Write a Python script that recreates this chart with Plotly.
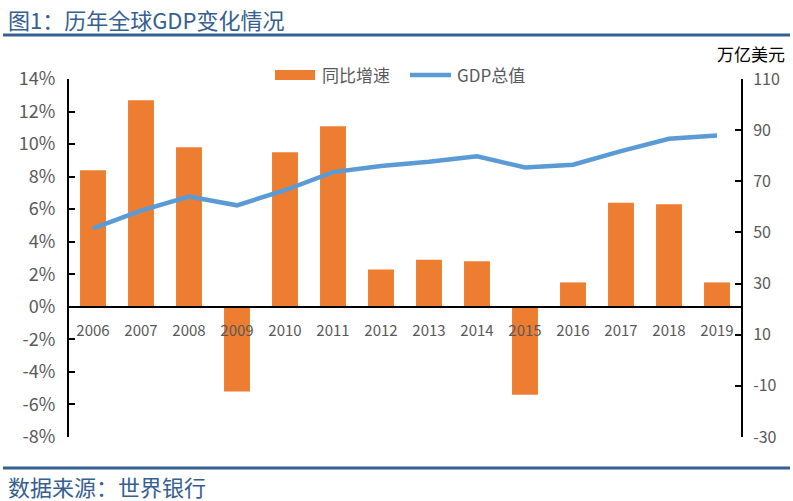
import plotly.graph_objects as go

years = ["2006", "2007", "2008", "2009", "2010", "2011", "2012",
         "2013", "2014", "2015", "2016", "2017", "2018", "2019"]
growth_pct = [8.4, 12.7, 9.8, -5.2, 9.5, 11.1, 2.3, 2.9, 2.8, -5.4, 1.5, 6.4, 6.3, 1.5]
gdp_total = [51.6, 58.5, 64.0, 60.6, 66.5, 73.6, 76.0, 77.6, 79.8, 75.4, 76.5, 81.8, 86.6, 87.9]

left_ticks = [-8, -6, -4, -2, 0, 2, 4, 6, 8, 10, 12, 14]
left_labels = ["-8%", "-6%", "-4%", "-2%", "0%", "2%", "4%", "6%", "8%", "10%", "12%", "14%"]
right_ticks = [-30, -10, 10, 30, 50, 70, 90, 110]
right_labels = ["-30", "-10", "10", "30", "50", "70", "90", "110"]

series_names = ["同比增速", "GDP总值"]

FONT = "Noto Sans CJK SC"
ORANGE = "#ED7D31"
BLUE = "#5B9BD5"
NAVY = "#35608F"
GRAY = "#595959"

W, H = 793, 501
L, R, T, B = 69, 52, 79, 64
ph = H - T - B
pw = W - L - R

def py(p):
    return (H - B - p) / ph

def px(p):
    return (p - L) / pw

fig = go.Figure()
fig.add_trace(go.Bar(x=years, y=growth_pct, name=series_names[0], marker_color=ORANGE,
                     marker_line_width=0, yaxis="y", showlegend=False))
fig.add_trace(go.Scatter(x=years, y=gdp_total, name=series_names[1], mode="lines",
                         line=dict(color=BLUE, width=4.5), yaxis="y2", showlegend=False))

fig.update_layout(
    width=W, height=H,
    margin=dict(l=L, r=R, t=T, b=B, autoexpand=False),
    paper_bgcolor="white", plot_bgcolor="white",
    bargap=0.46,
    font=dict(family=FONT, color=GRAY),
    showlegend=False,
    xaxis=dict(type="category", anchor="free", position=8 / 22,
               showline=True, linecolor="black", linewidth=2,
               ticks="", showgrid=False, zeroline=False,
               tickfont=dict(size=15, color=GRAY, family=FONT),
               ticklabelstandoff=10),
    yaxis=dict(range=[-8, 14], tickvals=left_ticks, ticktext=left_labels,
               showline=True, linecolor="black", linewidth=2,
               ticks="inside", ticklen=6, tickwidth=2, tickcolor="black",
               showgrid=False, zeroline=False, ticklabelstandoff=8,
               tickfont=dict(size=18, color=GRAY, family=FONT)),
    yaxis2=dict(range=[-30, 110], tickvals=right_ticks, ticktext=right_labels,
                overlaying="y", side="right",
                showline=True, linecolor="black", linewidth=2,
                ticks="inside", ticklen=6, tickwidth=2, tickcolor="black",
                showgrid=False, zeroline=False, ticklabelstandoff=7,
                tickfont=dict(size=16, color=GRAY, family=FONT)),
)

shapes = [
    dict(type="line", xref="paper", yref="paper", x0=px(3), x1=px(790), y0=py(35), y1=py(35),
         line=dict(color=NAVY, width=3)),
    dict(type="line", xref="paper", yref="paper", x0=px(3), x1=px(790), y0=py(468), y1=py(468),
         line=dict(color=NAVY, width=3)),
    # legend keys
    dict(type="rect", xref="paper", yref="paper", x0=px(275), x1=px(315), y0=py(80), y1=py(70),
         fillcolor=ORANGE, line=dict(width=0)),
    dict(type="line", xref="paper", yref="paper", x0=px(410), x1=px(451), y0=py(75), y1=py(75),
         line=dict(color=BLUE, width=4.5)),
]
fig.update_layout(shapes=shapes)

fig.add_annotation(text=series_names[0], xref="paper", yref="paper",
                   x=px(320), y=py(75), xanchor="left", yanchor="middle", showarrow=False,
                   font=dict(size=17, color=GRAY, family=FONT))
fig.add_annotation(text=series_names[1], xref="paper", yref="paper",
                   x=px(455), y=py(75), xanchor="left", yanchor="middle", showarrow=False,
                   font=dict(size=17, color=GRAY, family=FONT))

fig.add_annotation(text="图1：历年全球GDP变化情况", xref="paper", yref="paper",
                   x=px(6), y=py(19), xanchor="left", yanchor="middle", showarrow=False,
                   font=dict(size=22, color=NAVY, family=FONT))
fig.add_annotation(text="数据来源：世界银行", xref="paper", yref="paper",
                   x=px(6), y=py(486), xanchor="left", yanchor="middle", showarrow=False,
                   font=dict(size=22, color=NAVY, family=FONT))
fig.add_annotation(text="万亿美元", xref="paper", yref="paper",
                   x=px(787), y=py(53), xanchor="right", yanchor="middle", showarrow=False,
                   font=dict(size=17, color="black", family=FONT))

fig.write_html("out.html", config={"displayModeBar": False},
               post_script="document.body.style.margin='0';document.body.style.overflow='hidden';")
